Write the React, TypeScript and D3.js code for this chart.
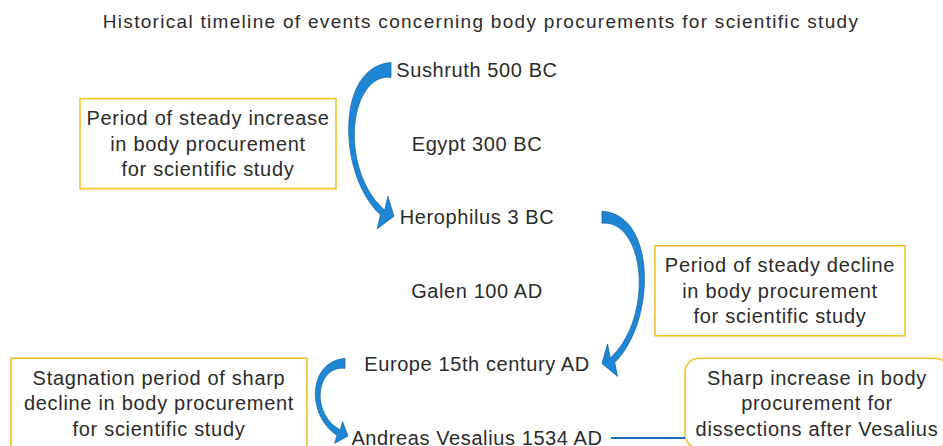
import * as d3 from 'd3';

const title = 'Historical timeline of events concerning body procurements for scientific study';

const events = [
  'Sushruth 500 BC',
  'Egypt 300 BC',
  'Herophilus 3 BC',
  'Galen 100 AD',
  'Europe 15th century AD',
  'Andreas Vesalius 1534 AD',
];

// note text lines, and the events each note sits beside
const noteLines = [
  ['Period of steady increase', 'in body procurement', 'for scientific study'],
  ['Period of steady decline', 'in body procurement', 'for scientific study'],
  ['Stagnation period of sharp', 'decline in body procurement', 'for scientific study'],
  ['Sharp increase in body', 'procurement for', 'dissections after Vesalius'],
];
const noteSpans: [number, number][] = [[0, 2], [2, 4], [4, 5], [4, 5]];

// arrows between events: from, to
const arrowLinks: [number, number][] = [[0, 2], [2, 4], [4, 5]];

const W = 943;
const H = 446;
const FONT = '"Liberation Sans", Arial, sans-serif';
const BLUE = '#1f86d4';
const BLUE_DARK = '#0c5fa8';
const GOLD = '#f6c22a';
const INK = '#2b2b2b';
const centerX = 477;

// layout for notes (x, width, rounded?)
const noteBoxes = [
  { x: 80, w: 256, rx: 0 },
  { x: 655, w: 250, rx: 0 },
  { x: 11, w: 296, rx: 0 },
  { x: 685, w: 264, rx: 14 },
];
// arrow layout: start x, tip x, control offset, head direction (deg), widths
const arrowStyle = [
  { x0: 391, x1: 394, ctrl: -49, dy0: 0, dy1: -1, ang: 18, w0: 15, headW: 34, headL: 12 },
  { x0: 602, x1: 602, ctrl: 49, dy0: 0, dy1: -1, ang: 163, w0: 12, headW: 34, headL: 11 },
  { x0: 345, x1: 348, ctrl: -33, dy0: -1, dy1: -2, ang: 20, w0: 10, headW: 23, headL: 10 },
];

type P = [number, number];

function arrowPath(p0: P, p1: P, p2: P, tip: P, ang: number, w0: number, wMin: number, headW: number, headL: number) {
  const dir: P = [Math.cos((ang * Math.PI) / 180), Math.sin((ang * Math.PI) / 180)];
  const p3: P = [tip[0] - dir[0] * headL, tip[1] - dir[1] * headL];
  const N = 120;
  const pts: { p: P; d: P; s: number }[] = [];
  let s = 0;
  let prev: P | null = null;
  for (let i = 0; i <= N; i++) {
    const t = i / N;
    const u = 1 - t;
    const p: P = [
      u * u * u * p0[0] + 3 * u * u * t * p1[0] + 3 * u * t * t * p2[0] + t * t * t * p3[0],
      u * u * u * p0[1] + 3 * u * u * t * p1[1] + 3 * u * t * t * p2[1] + t * t * t * p3[1],
    ];
    const d: P = [
      3 * u * u * (p1[0] - p0[0]) + 6 * u * t * (p2[0] - p1[0]) + 3 * t * t * (p3[0] - p2[0]),
      3 * u * u * (p1[1] - p0[1]) + 6 * u * t * (p2[1] - p1[1]) + 3 * t * t * (p3[1] - p2[1]),
    ];
    if (prev) s += Math.hypot(p[0] - prev[0], p[1] - prev[1]);
    pts.push({ p, d, s });
    prev = p;
  }
  const L = s;
  const left: P[] = [];
  const right: P[] = [];
  for (const q of pts) {
    const f = q.s / L;
    const w = wMin + (w0 - wMin) * (1 - f) * (1 - f) * (1 - f) + 2.5 * f * f * f * f;
    const len = Math.hypot(q.d[0], q.d[1]) || 1;
    const n: P = [-q.d[1] / len, q.d[0] / len];
    left.push([q.p[0] + (n[0] * w) / 2, q.p[1] + (n[1] * w) / 2]);
    right.push([q.p[0] - (n[0] * w) / 2, q.p[1] - (n[1] * w) / 2]);
  }
  const hn: P = [-dir[1], dir[0]];
  const poly: P[] = [
    ...left,
    [p3[0] + (hn[0] * headW) / 2, p3[1] + (hn[1] * headW) / 2],
    tip,
    [p3[0] - (hn[0] * headW) / 2, p3[1] - (hn[1] * headW) / 2],
    ...right.reverse(),
  ];
  return d3.line().curve(d3.curveLinearClosed)(poly) || '';
}

export default function App() {
  const y = d3.scalePoint<string>().domain(events).range([70, 438]);
  const yOf = (i: number) => y(events[i]) as number;
  const lineGap = 25.5;
  const boxH = 90;

  return (
    <svg width={W} height={H} style={{ position: 'absolute', left: 0, top: 0, background: '#fff' }} fontFamily={FONT}>
      <text x={481} y={21} dy="0.35em" textAnchor="middle" fontSize={19} fill={INK} letterSpacing={1.3}>
        {title}
      </text>

      {events.map((e, i) => (
        <text key={e} x={centerX} y={yOf(i)} dy="0.35em" textAnchor="middle" fontSize={20} fill={INK} letterSpacing={0.6}>
          {e}
        </text>
      ))}

      {noteLines.map((lines, k) => {
        const [a, b] = noteSpans[k];
        const cy = (yOf(a) + yOf(b)) / 2 + (a === 4 ? 2 : 0);
        const bx = noteBoxes[k];
        return (
          <g key={k}>
            <rect x={bx.x} y={cy - boxH / 2} width={bx.w} height={boxH} rx={bx.rx} fill="#fff" stroke={GOLD} strokeWidth={1.6} />
            {lines.map((l, j) => (
              <text key={j} x={bx.x + bx.w / 2} y={cy + (j - 1) * lineGap} dy="0.35em" textAnchor="middle" fontSize={20} fill={INK} letterSpacing={0.7}>
                {l}
              </text>
            ))}
          </g>
        );
      })}

      {arrowLinks.map(([a, b], k) => {
        const st = arrowStyle[k];
        const y0 = yOf(a) + st.dy0;
        const y1 = yOf(b) + st.dy1;
        const cx = st.x0 + st.ctrl;
        const p0: P = [st.x0, y0];
        const p1: P = [cx, y0];
        const p2: P = [cx + (st.ctrl > 0 ? 4 : -4), y1 - (y1 - y0) * 0.3];
        const tip: P = [st.x1, y1];
        return (
          <path key={k} d={arrowPath(p0, p1, p2, tip, st.ang, st.w0, 4, st.headW, st.headL)} fill={BLUE} stroke={BLUE_DARK} strokeWidth={0.7} strokeLinejoin="round" />
        );
      })}

      <line x1={611} x2={noteBoxes[3].x} y1={yOf(5)} y2={yOf(5)} stroke="#1a6cbc" strokeWidth={2.2} />
    </svg>
  );
}
